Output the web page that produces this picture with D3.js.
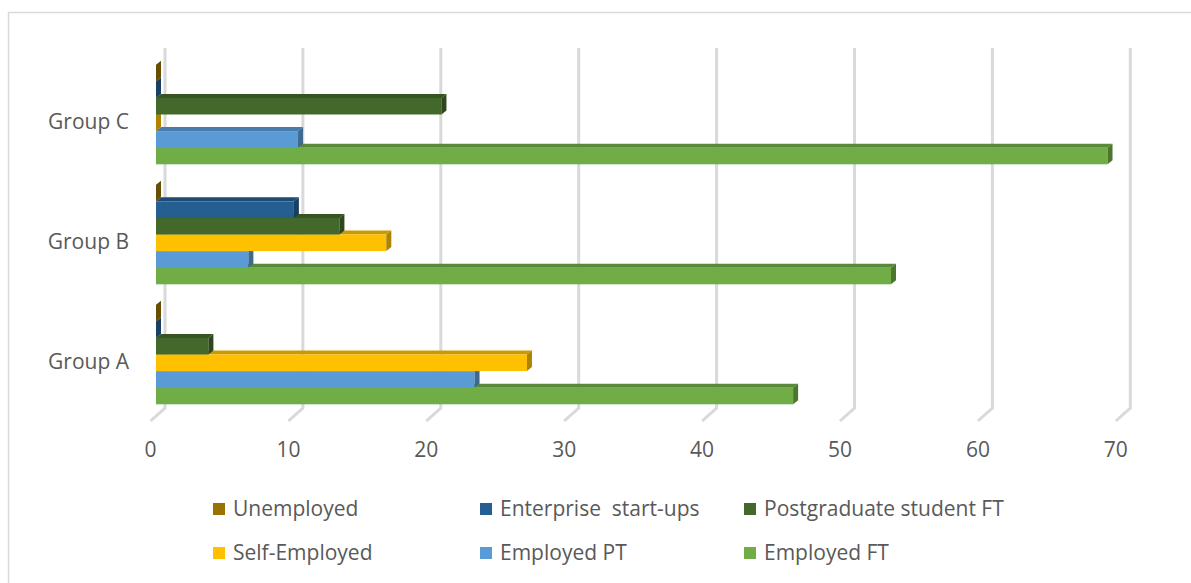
<!DOCTYPE html>
<html>
<head>
<meta charset="utf-8">
<script src="https://cdn.jsdelivr.net/npm/d3@7"></script>
<style>
  html, body { margin: 0; padding: 0; background: #fff; }
  svg { display: block; }
  text { font-family: "Open Sans", "Noto Sans", sans-serif; fill: #595959; white-space: pre; }
</style>
</head>
<body>
<svg id="chart" width="1191" height="583"></svg>
<script>
// ---- data ----
const categories = ["Group A", "Group B", "Group C"];
const seriesNames = ["Unemployed", "Enterprise  start-ups", "Postgraduate student FT", "Self-Employed", "Employed PT", "Employed FT"];
const seriesColors = ["#997300", "#255E91", "#43682B", "#FFC000", "#5B9BD5", "#70AD47"];
const unemployed   = [0, 0, 0];
const enterprise   = [0, 10, 0];
const postgraduate = [3.8, 13.3, 20.7];
const selfEmployed = [26.9, 16.7, 0];
const employedPT   = [23.1, 6.7, 10.3];
const employedFT   = [46.2, 53.3, 69];
const tickValues   = [0, 10, 20, 30, 40, 50, 60, 70];

const seriesValues = [unemployed, enterprise, postgraduate, selfEmployed, employedPT, employedFT];

const svg = d3.select("#chart");
const FS = 21;

// chart border
svg.append("rect").attr("x", 8.5).attr("y", 12.5).attr("width", 1400).attr("height", 800)
  .attr("fill", "none").attr("stroke", "#d9d9d9").attr("stroke-width", 1.5);

// scales (bar front plane)
const x = d3.scaleLinear().domain([0, 70]).range([156, 156 + 70 * 13.79]);
const y = d3.scaleBand().domain(["Group C", "Group B", "Group A"]).range([54.5, 414.5])
  .paddingInner(0.17).paddingOuter(0.085);
const ys = d3.scaleBand().domain(seriesNames).range([0, y.bandwidth()]);

// 3D offsets
const bdx = 5, bdy = -4;            // bar depth
const wallDx = 9;                   // back wall offset from bar front plane
const wallTop = 48, wallBottom = 408;
const footDx = -14.5, footDy = 13;

// gridlines (back wall + floor foot)
const grid = svg.append("g");
tickValues.forEach(t => {
  const gx = x(t) + wallDx;
  grid.append("path")
    .attr("d", `M${gx},${wallTop} L${gx},${wallBottom} L${gx + footDx},${wallBottom + footDy}`)
    .attr("fill", "none").attr("stroke", "#d9d9d9").attr("stroke-width", 3)
    .attr("stroke-linejoin", "miter");
});

// tick labels
svg.append("g").selectAll("text").data(tickValues).join("text")
  .attr("x", d => x(d) + wallDx + footDx)
  .attr("y", 450).attr("dy", "0.35em")
  .attr("text-anchor", "middle").attr("font-size", FS)
  .text(d => d);

// category labels
svg.append("g").selectAll("text").data(categories).join("text")
  .attr("x", 129)
  .attr("y", d => y(d) + y.bandwidth() / 2 + 7).attr("dy", "0.35em")
  .attr("text-anchor", "end").attr("font-size", FS)
  .text(d => d);

// bars: paint bottom series first so upper bars cover top faces
const bars = svg.append("g");
const order = d3.range(seriesNames.length).reverse();
categories.forEach((cat, ci) => {
  order.forEach(si => {
    const v = seriesValues[si][ci];
    const c = d3.color(seriesColors[si]);
    const top = d3.rgb(c.r * 0.8, c.g * 0.8, c.b * 0.8);
    const side = d3.rgb(c.r * 0.68, c.g * 0.68, c.b * 0.68);
    const x0 = x(0), x1 = x(v);
    const y0 = y(cat) + ys(seriesNames[si]);
    const y1 = y0 + ys.bandwidth();
    const g = bars.append("g");
    g.append("path")
      .attr("d", `M${x0},${y0} L${x1},${y0} L${x1 + bdx},${y0 + bdy} L${x0 + bdx},${y0 + bdy} Z`)
      .attr("fill", top);
    if (x1 > x0) {
      g.append("rect").attr("x", x0).attr("y", y0).attr("width", x1 - x0).attr("height", y1 - y0)
        .attr("fill", c);
    }
    g.append("path")
      .attr("d", `M${x1},${y0} L${x1 + bdx},${y0 + bdy} L${x1 + bdx},${y1 + bdy} L${x1},${y1} Z`)
      .attr("fill", side);
  });
});

// legend
const legendCols = [213, 480, 744];
const legendRows = [509, 553];
const legend = svg.append("g");
seriesNames.forEach((name, i) => {
  const lx = legendCols[i % 3];
  const ly = legendRows[Math.floor(i / 3)];
  legend.append("rect").attr("x", lx).attr("y", ly - 6).attr("width", 12).attr("height", 12)
    .attr("fill", seriesColors[i]);
  legend.append("text").attr("x", lx + 20).attr("y", ly).attr("dy", "0.35em")
    .attr("font-size", FS).text(name);
});
</script>
</body>
</html>
